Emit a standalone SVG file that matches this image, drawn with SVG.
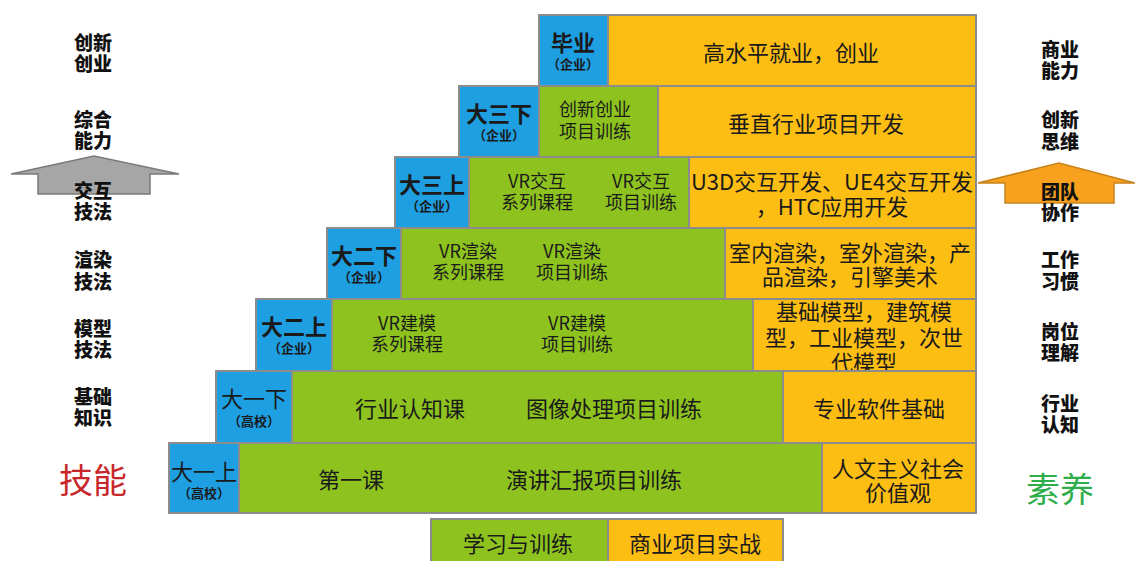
<svg xmlns="http://www.w3.org/2000/svg" width="1135" height="561" viewBox="0 0 1135 561">
<style>
.b{fill:#1e9fe2;stroke:#8c8c8c;stroke-width:2}
.g{fill:#8dc21f;stroke:#8c8c8c;stroke-width:2}
.o{fill:#fdbe14;stroke:#8c8c8c;stroke-width:2}
text{font-family:"Noto Sans CJK SC","Noto Sans",sans-serif;fill:#1a1a1a;text-anchor:middle;dominant-baseline:central}
.t{font-size:22px}
.s{font-size:18px}
.h{font-size:22px;font-weight:bold}
.hn{font-size:22px}
.sub{font-size:13px;font-weight:bold}
.side{font-size:19px;font-weight:900;fill:#111}
.big{font-size:34px}
</style>
<g id="arrows">
<polygon points="11,174 94,156 179,174 150,174 150,194 38,194 38,174" fill="#a6a6a6" stroke="#7a7a7a" stroke-width="1.5"/>
<polygon points="978,183 1059,163 1135,183 1114,183 1114,203 1005,203 1005,183" fill="#f7a11f" stroke="#c7821a" stroke-width="1.5"/>
</g>
<g id="left-labels">
<text class="side" x="93" y="41">创新<tspan x="93" dy="21">创业</tspan></text>
<text class="side" x="93" y="118">综合<tspan x="93" dy="21">能力</tspan></text>
<text class="side" x="93" y="189">交互<tspan x="93" dy="21">技法</tspan></text>
<text class="side" x="93" y="258">渲染<tspan x="93" dy="22">技法</tspan></text>
<text class="side" x="93" y="327">模型<tspan x="93" dy="21">技法</tspan></text>
<text class="side" x="93" y="395">基础<tspan x="93" dy="21">知识</tspan></text>
<text class="big" x="93" y="478" style="fill:#c8262a">技能</text>
</g>
<g id="right-labels">
<text class="side" x="1060" y="48">商业<tspan x="1060" dy="21">能力</tspan></text>
<text class="side" x="1060" y="118">创新<tspan x="1060" dy="22">思维</tspan></text>
<text class="side" x="1060" y="190">团队<tspan x="1060" dy="21">协作</tspan></text>
<text class="side" x="1060" y="258">工作<tspan x="1060" dy="22">习惯</tspan></text>
<text class="side" x="1060" y="330">岗位<tspan x="1060" dy="21">理解</tspan></text>
<text class="side" x="1060" y="402">行业<tspan x="1060" dy="21">认知</tspan></text>
<text class="big" x="1060" y="487" style="fill:#2eae4a">素养</text>
</g>
<g id="row-graduate">
<rect class="b" x="539" y="15" width="69" height="71"/>
<rect class="o" x="608" y="15" width="368" height="71"/>
<text class="h" x="573" y="41">毕业<tspan class="sub" x="573" dy="22">（企业）</tspan></text>
<text class="t" x="791" y="51">高水平就业，创业</text>
</g>
<g id="row-3b">
<rect class="b" x="459" y="86" width="80" height="71"/>
<rect class="g" x="539" y="86" width="119" height="71"/>
<rect class="o" x="658" y="86" width="318" height="71"/>
<text class="h" x="499" y="112">大三下<tspan class="sub" x="499" dy="22">（企业）</tspan></text>
<text class="s" x="595" y="108">创新创业<tspan x="595" dy="22">项目训练</tspan></text>
<text class="t" x="816" y="122">垂直行业项目开发</text>
</g>
<g id="row-3a">
<rect class="b" x="395" y="157" width="74" height="71"/>
<rect class="g" x="469" y="157" width="220" height="71"/>
<rect class="o" x="689" y="157" width="287" height="71"/>
<text class="h" x="432" y="183">大三上<tspan class="sub" x="432" dy="22">（企业）</tspan></text>
<text class="s" x="537" y="180">VR交互<tspan x="537" dy="21">系列课程</tspan></text>
<text class="s" x="641" y="180">VR交互<tspan x="641" dy="21">项目训练</tspan></text>
<text class="t" x="832" y="180">U3D交互开发、UE4交互开发<tspan x="832" dy="25">，HTC应用开发</tspan></text>
</g>
<g id="row-2b">
<rect class="b" x="327" y="228" width="74" height="71"/>
<rect class="g" x="401" y="228" width="324" height="71"/>
<rect class="o" x="725" y="228" width="251" height="71"/>
<text class="h" x="364" y="254">大二下<tspan class="sub" x="364" dy="22">（企业）</tspan></text>
<text class="s" x="468" y="250">VR渲染<tspan x="468" dy="21">系列课程</tspan></text>
<text class="s" x="572" y="250">VR渲染<tspan x="572" dy="21">项目训练</tspan></text>
<text class="t" x="850" y="251">室内渲染，室外渲染，产<tspan x="850" dy="24">品渲染，引擎美术</tspan></text>
</g>
<g id="row-2a">
<rect class="b" x="256" y="299" width="76" height="72"/>
<rect class="g" x="332" y="299" width="421" height="72"/>
<rect class="o" x="753" y="299" width="223" height="72"/>
<text class="h" x="294" y="325">大二上<tspan class="sub" x="294" dy="22">（企业）</tspan></text>
<text class="s" x="407" y="322">VR建模<tspan x="407" dy="21">系列课程</tspan></text>
<text class="s" x="577" y="322">VR建模<tspan x="577" dy="21">项目训练</tspan></text>
<text class="t" x="864" y="310">基础模型，建筑模<tspan x="864" dy="26">型，工业模型，次世</tspan><tspan x="864" dy="25">代模型</tspan></text>
</g>
<g id="row-1b">
<rect class="b" x="216" y="371" width="76" height="72"/>
<rect class="g" x="292" y="371" width="491" height="72"/>
<rect class="o" x="783" y="371" width="193" height="72"/>
<text class="hn" x="254" y="397">大一下<tspan class="sub" x="254" dy="23">（高校）</tspan></text>
<text class="t" x="410" y="407">行业认知课</text>
<text class="t" x="614" y="407">图像处理项目训练</text>
<text class="t" x="879" y="407">专业软件基础</text>
</g>
<g id="row-1a">
<rect class="b" x="169" y="443" width="70" height="70"/>
<rect class="g" x="239" y="443" width="583" height="70"/>
<rect class="o" x="822" y="443" width="154" height="70"/>
<text class="hn" x="204" y="470">大一上<tspan class="sub" x="204" dy="22">（高校）</tspan></text>
<text class="t" x="351" y="478">第一课</text>
<text class="t" x="594" y="478">演讲汇报项目训练</text>
<text class="t" x="898" y="467">人文主义社会<tspan x="898" dy="24">价值观</tspan></text>
</g>
<g id="legend">
<rect class="g" x="431" y="519" width="177" height="50"/>
<rect class="o" x="608" y="519" width="175" height="50"/>
<text class="t" x="518" y="542">学习与训练</text>
<text class="t" x="695" y="542">商业项目实战</text>
</g>
</svg>
